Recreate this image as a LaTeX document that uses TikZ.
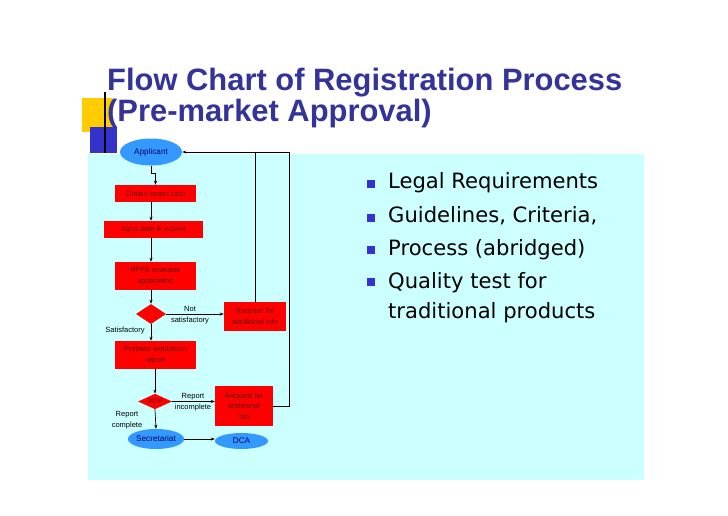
\documentclass[tikz,border=0pt]{standalone}
\usepackage{fontspec}
\setmainfont{Liberation Sans}
\newfontfamily\bulletfont{DejaVu Sans}
\usetikzlibrary{shapes.geometric,arrows.meta}
\definecolor{bgcyan}{RGB}{204,255,255}
\definecolor{titleblue}{RGB}{51,51,153}
\definecolor{decoyellow}{RGB}{255,204,0}
\definecolor{decoblue}{RGB}{51,51,204}
\definecolor{boxred}{RGB}{255,0,0}
\definecolor{boxtext}{RGB}{110,0,0}
\definecolor{ellblue}{RGB}{51,153,255}
\definecolor{elltext}{RGB}{0,0,102}
\tikzset{
  redbox/.style={rectangle, fill=boxred, text=boxtext, inner sep=0pt, align=center,
    font=\fontsize{7.5}{10.5}\selectfont},
  bluell/.style={ellipse, fill=ellblue, text=elltext, inner sep=0pt,
    font=\fontsize{8.2}{10}\selectfont},
  decision/.style={diamond, fill=boxred, text=boxtext, inner sep=0pt, aspect=1.5,
    font=\fontsize{6.5}{8}\selectfont},
  lbl/.style={inner sep=0pt, align=center, font=\fontsize{7.5}{10.5}\selectfont},
  arr/.style={-{Stealth[length=4pt,width=3pt]}, line width=0.7pt},
  ln/.style={line width=0.7pt},
  titlefont/.style={inner sep=0pt, anchor=base west, text=titleblue,
    font=\fontsize{30.9}{34}\selectfont\bfseries},
  bullettext/.style={inner sep=0pt, anchor=base west,
    font=\bulletfont\fontsize{21.1}{24}\selectfont},
  bulletsq/.style={fill=decoblue}
}
\begin{document}
\begin{tikzpicture}[x=1pt,y=-1pt]
\useasboundingbox (0,0) rectangle (728,515);
\fill[white] (0,0) rectangle (728,515);
% background panel
\fill[bgcyan] (88,154) rectangle (644,480);
% decoration
\fill[decoyellow] (82,98) rectangle (112,132);
\fill[decoblue] (90,127) rectangle (117,153);
\draw[line width=1.2pt] (105,92) -- (105,153);
% title
\node[titlefont] (t1) at (107,90) {Flow Chart of Registration Process};
\node[titlefont] (t2) at (107,121) {(Pre-market Approval)};
% bullets
\fill[bulletsq] (367,180) rectangle (375,188);
\node[bullettext] (b1) at (388,188) {Legal Requirements};
\fill[bulletsq] (367,214) rectangle (375,222);
\node[bullettext] (b2) at (388,222) {Guidelines, Criteria,};
\fill[bulletsq] (367,246) rectangle (375,254);
\node[bullettext] (b3) at (388,255) {Process (abridged)};
\fill[bulletsq] (367,278) rectangle (375,286);
\node[bullettext] (b4) at (388,288) {Quality test for};
\node[bullettext] (b5) at (388,318) {traditional products};
% flowchart nodes
\node[bluell, minimum width=62pt, minimum height=27pt] (app) at (151,152) {Applicant};
\node[redbox, minimum width=81pt, minimum height=17pt] (obtain) at (155.5,193.5) {Obtain smart card};
\node[redbox, minimum width=99pt, minimum height=17pt] (input) at (153.5,229.5) {Input data \& submit};
\node[redbox, minimum width=81pt, minimum height=28pt] (bpfk) at (155.5,276) {BPFK evaluate\\application};
\node[decision, minimum width=30pt, minimum height=20pt] (d1) at (151,314) {};
\node[redbox, minimum width=62pt, minimum height=29pt] (req1) at (255,316.5) {Request for\\additional info};
\node[redbox, minimum width=81pt, minimum height=28pt] (prep) at (155.5,355) {Prepare evaluation\\report};
\node[decision, minimum width=34pt, minimum height=13pt] (d2) at (155,401.5) {JKPP};
\node[redbox, minimum width=58pt, minimum height=40pt] (req2) at (244,406) {Request for\\additional\\info};
\node[bluell, minimum width=53pt, minimum height=20pt] (sec) at (156,439) {Secretariat};
\node[bluell, minimum width=53pt, minimum height=16pt] (dca) at (241.5,441) {DCA};
% labels
\node[lbl] (l1) at (190,315) {Not\\satisfactory};
\node[lbl] (l2) at (125,331) {Satisfactory};
\node[lbl] (l3) at (193,402) {Report\\incomplete};
\node[lbl] (l4) at (127,420) {Report\\complete};
% connectors
\draw[arr] (app.south) -- ++(0,8) -| (obtain.north);
\draw[arr] (obtain.south -| d1.north) -- (input.north -| d1.north);
\draw[arr] (input.south -| d1.north) -- (bpfk.north -| d1.north);
\draw[arr] (bpfk.south -| d1.north) -- (d1.north);
\draw[arr] (d1.east) -- (d1.east -| req1.west);
\draw[arr] (d1.south) -- (d1.south |- prep.north);
\draw[arr] (prep.south -| d2.north) -- (d2.north);
\draw[arr] (d2.east) -- (d2.east -| req2.west);
\draw[arr] (d2.south) -- (sec.north);
\draw[arr] (sec.east) -- (sec.east -| dca.west);
\draw[arr] (req2.east) -- ++(16,0) |- (app.east);
\draw[ln] (req1.north) -- (req1.north |- app.east);
\end{tikzpicture}
\end{document}
